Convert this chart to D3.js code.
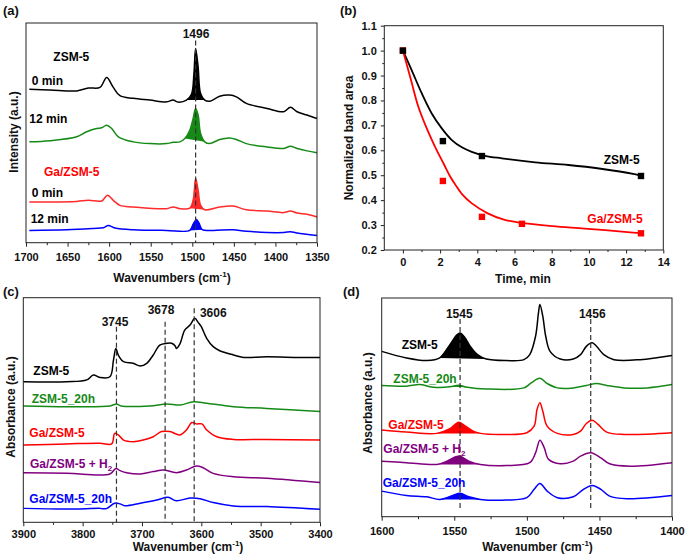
<!DOCTYPE html>
<html>
<head>
<meta charset="utf-8">
<script src="https://cdn.jsdelivr.net/npm/d3@7"></script>
<style>
  body { margin: 0; background: #fff; }
  svg text { font-family: "Liberation Sans", Arial, sans-serif; font-weight: bold; }
</style>
</head>
<body>
<svg id="fig" width="685" height="559"></svg>
<script>
// ---- panel (a): wavenumber (cm-1), intensity (a.u.) ----
var aZsm0 = [[1696,69.8],[1671,69.5],[1639,69.1],[1625,70.4],[1611,70.7],[1603,75.2],[1595,70.7],[1587,66.9],
  [1571,65.7],[1551,64.9],[1531,64.1],[1523,64.9],[1517,64.0],[1507,64.9],[1501,67.6],[1498,77.1],[1496,88.4],
  [1493,80.1],[1490,67.9],[1485,64.9],[1479,64.4],[1467,66.7],[1455,67.2],[1447,66.4],[1435,63.4],[1410,61.1],
  [1390,59.6],[1382,61.6],[1374,59.6],[1362,58.1],[1350,56.5]];
var aZsm12 = [[1696,45.9],[1671,46.4],[1639,48.2],[1627,50.5],[1615,52.0],[1609,52.3],[1603,53.5],[1597,52.0],
  [1589,48.2],[1571,45.9],[1551,45.1],[1531,45.1],[1523,45.7],[1515,45.9],[1509,47.4],[1503,51.2],[1499,56.5],
  [1496,61.1],[1493,58.1],[1490,49.7],[1485,45.9],[1479,45.1],[1467,47.0],[1455,47.7],[1447,47.0],[1435,45.1],
  [1410,43.6],[1390,42.9],[1382,43.9],[1374,42.9],[1362,41.8],[1350,40.9]];
var aGa0 = [[1696,18.5],[1671,18.5],[1639,18.8],[1625,19.3],[1609,19.0],[1602,21.6],[1595,19.3],[1587,17.0],
  [1571,16.3],[1531,15.5],[1523,16.3],[1515,15.5],[1503,15.7],[1499,19.3],[1496,29.2],[1493,23.9],[1490,17.0],
  [1485,15.0],[1467,16.3],[1451,16.7],[1435,15.0],[1410,14.4],[1390,13.7],[1382,14.4],[1374,13.5],[1362,12.9],
  [1350,11.7]];
var aGa12 = [[1696,5.6],[1651,5.9],[1619,6.5],[1607,6.8],[1601,7.8],[1593,6.7],[1571,5.9],[1531,5.6],[1503,5.6],
  [1499,8.4],[1495,10.6],[1492,9.0],[1488,5.9],[1475,5.6],[1451,5.9],[1435,5.2],[1390,4.6],[1382,5.0],[1374,4.4],
  [1350,3.3]];
var aColors = ["#000000", "#168a16", "#ff2a2a", "#0000ff"];
var aFillRanges = [[1507,1485], [1509,1485], [1503,1485], [1503,1488]];
var aPeak = 1496;

// ---- panel (b): time (min), normalized band area ----
var bTimeZsm = [0, 2.15, 4.25, 12.8];
var bAreaZsm = [1.0, 0.637, 0.577, 0.497];
var bTimeGa = [0, 2.15, 4.25, 6.4, 12.8];
var bAreaGa = [1.0, 0.477, 0.333, 0.305, 0.267];
var bFitZsm = [[0,1.0],[0.47,0.922],[1.01,0.829],[1.55,0.748],[2.09,0.688],[2.63,0.641],[3.17,0.612],
  [3.7,0.594],[4.42,0.578],[5.32,0.568],[7.11,0.552],[8.9,0.541],[10.64,0.526],[12.38,0.505],[12.8,0.497]];
var bFitGa = [[0,1.0],[0.4,0.892],[0.83,0.775],[1.3,0.685],[1.73,0.614],[2.2,0.545],[2.54,0.495],
  [2.82,0.462],[3.2,0.422],[3.69,0.388],[4.56,0.347],[5.43,0.322],[6.3,0.31],[8.03,0.296],[9.77,0.286],
  [12.38,0.27],[12.8,0.267]];
var bTicksX = [0, 2, 4, 6, 8, 10, 12, 14];
var bTicksY = [0.2, 0.3, 0.4, 0.5, 0.6, 0.7, 0.8, 0.9, 1.0, 1.1];

// ---- panel (c): OH region, wavenumber (cm-1), absorbance (a.u.) ----
var cZsm = [[3900,62.6],[3827,62.6],[3793,63.4],[3782,65.6],[3771,64.5],[3754,64.8],[3748,72.3],[3744,77.4],
  [3740,74.5],[3731,71.5],[3715,70.8],[3703,69.6],[3692,70.8],[3681,74.5],[3670,78.9],[3658,79.7],[3650,79.7],
  [3644,78.5],[3642,77.4],[3636,79.4],[3628,85.6],[3619,87.8],[3611,90.8],[3605,88.9],[3600,87.1],[3591,81.9],
  [3580,78.2],[3569,76.4],[3546,74.5],[3529,73.4],[3490,73.7],[3434,73.4],[3400,73.4]];
var cZsm20 = [[3900,51.8],[3827,51.5],[3754,51.8],[3743,52.7],[3735,51.8],[3687,51.8],[3658,52.7],[3636,52.2],
  [3613,53.7],[3591,53.0],[3546,51.5],[3490,50.7],[3400,49.3]];
var cGa = [[3900,34.4],[3827,34.9],[3771,35.2],[3751,34.9],[3746,39.6],[3740,38.9],[3731,36.6],[3715,35.9],
  [3698,36.6],[3681,38.1],[3667,40.4],[3653,40.4],[3636,38.9],[3625,41.1],[3616,44.4],[3608,43.8],[3599,43.8],
  [3591,41.1],[3574,38.1],[3546,36.9],[3490,36.9],[3400,36.6]];
var cGaH2 = [[3900,22.1],[3827,21.8],[3754,21.5],[3744,24.0],[3737,23.0],[3726,22.1],[3703,21.5],[3681,22.6],
  [3664,23.3],[3642,22.1],[3625,23.3],[3608,25.1],[3597,24.3],[3580,21.8],[3546,20.3],[3490,19.6],[3400,17.7]];
var cGa20 = [[3900,6.2],[3827,5.9],[3771,6.2],[3760,6.1],[3746,8.5],[3737,8.2],[3729,7.4],[3703,8.5],[3675,9.9],
  [3656,11.1],[3642,9.6],[3619,10.8],[3602,10.5],[3580,8.8],[3546,7.3],[3490,7.0],[3400,5.8]];
var cPeaks = [3743, 3661, 3612];
var cPeakTops = [87.1, 89.3, 95.3];
var cPeakLabels = ["3745", "3678", "3606"];

// ---- panel (d): pyridine region, wavenumber (cm-1), absorbance (a.u.) ----
var dZsm = [[1600,75.6],[1583,72.6],[1569,71.4],[1560,72.6],[1553,78.7],[1548,83.3],[1546,84.0],[1543,82.2],
  [1539,77.9],[1534,74.1],[1528,72.1],[1514,71.4],[1502,71.8],[1498,74.1],[1494,82.5],[1492,93.2],[1491,97.0],
  [1489,91.6],[1487,82.5],[1484,75.6],[1477,72.1],[1468,72.1],[1463,74.1],[1459,77.9],[1455,79.5],[1452,77.9],
  [1447,74.1],[1440,71.8],[1422,71.8],[1400,73.7]];
var dZsm20 = [[1600,60.0],[1583,59.7],[1574,60.4],[1564,59.2],[1553,59.4],[1547,60.1],[1541,59.2],[1528,58.4],
  [1502,58.9],[1497,61.2],[1491,63.3],[1486,60.9],[1479,58.9],[1468,58.9],[1459,60.0],[1452,60.9],[1445,60.0],
  [1433,58.9],[1417,58.9],[1400,60.4]];
var dGa = [[1600,39.6],[1583,38.7],[1562,38.1],[1553,40.2],[1547,43.2],[1543,41.7],[1537,39.1],[1532,38.1],
  [1514,37.6],[1500,38.4],[1495,41.4],[1493,49.0],[1491,52.1],[1489,48.2],[1486,41.4],[1479,38.1],[1468,37.6],
  [1463,39.1],[1459,42.6],[1455,44.1],[1451,42.2],[1445,38.7],[1433,37.6],[1400,38.4]];
var dGaH2 = [[1600,25.4],[1583,24.7],[1562,23.9],[1555,25.4],[1549,27.4],[1546,27.7],[1540,25.4],[1532,23.9],
  [1514,23.4],[1498,24.7],[1494,29.2],[1491,35.0],[1488,31.5],[1485,26.2],[1477,24.2],[1468,25.4],[1463,27.7],
  [1456,29.2],[1449,26.9],[1443,24.2],[1429,23.1],[1400,24.7]];
var dGa20 = [[1600,11.7],[1583,9.7],[1569,9.1],[1560,7.9],[1551,9.7],[1546,10.7],[1540,9.1],[1532,7.9],
  [1514,7.6],[1500,8.7],[1495,12.5],[1491,15.2],[1486,11.7],[1479,8.7],[1468,9.1],[1461,12.5],[1455,14.3],
  [1449,12.5],[1443,9.4],[1431,8.2],[1400,9.7]];
var dFillRanges = [[1560,1528], [1553,1541], [1562,1532], [1562,1532], [1560,1532]];
var dPeaks = [1546, 1456];
var dPeakLabels = ["1545", "1456"];

var sampleNames = ["ZSM-5", "ZSM-5_20h", "Ga/ZSM-5", "Ga/ZSM-5 + H", "Ga/ZSM-5_20h"];
var sampleColors = ["#000000", "#168a16", "#ff0000", "#800080", "#0000ff"];

var svg = d3.select("#fig");

// frame boxes of the four panels
var frames = {
  a: {x0: 26, x1: 317, y0: 23, y1: 242.7},
  b: {x0: 384.3, x1: 663.3, y0: 25.7, y1: 250},
  c: {x0: 23.3, x1: 320, y0: 297.7, y1: 522.3},
  d: {x0: 381.7, x1: 672, y0: 298, y1: 516.7}
};

function scales(f, xDom, yDom) {
  return {
    x: d3.scaleLinear().domain(xDom).range([f.x0, f.x1]),
    y: d3.scaleLinear().domain(yDom).range([f.y1, f.y0])
  };
}

function drawFrame(f) {
  svg.append("rect")
     .attr("x", f.x0).attr("y", f.y0)
     .attr("width", f.x1 - f.x0).attr("height", f.y1 - f.y0)
     .attr("fill", "none").attr("stroke", "#222").attr("stroke-width", 1);
}

function styleAxis(g) {
  g.select(".domain").remove();
  g.selectAll("line").attr("stroke", "#222");
  g.selectAll("text")
   .attr("font-family", "Liberation Sans, Arial, sans-serif")
   .attr("font-weight", "bold").attr("font-size", 11).attr("fill", "#111");
}

function bottomAxis(f, x, major, minor, pad, fmt) {
  var g = svg.append("g").attr("transform", "translate(0," + f.y1 + ")")
             .call(d3.axisBottom(x).tickValues(major).tickSize(4).tickPadding(pad)
                   .tickFormat(fmt || d3.format("d")));
  styleAxis(g);
  var m = svg.append("g").attr("transform", "translate(0," + f.y1 + ")")
             .call(d3.axisBottom(x).tickValues(minor).tickSize(2.5).tickFormat(""));
  styleAxis(m);
}

function axisTitle(x, y, main, sup, rotate) {
  var t = svg.append("text").attr("font-size", 12).attr("fill", "#111")
             .attr("text-anchor", "middle");
  if (rotate) t.attr("transform", "translate(" + x + "," + y + ") rotate(-90)");
  else t.attr("x", x).attr("y", y);
  t.append("tspan").text(main);
  if (sup) {
    t.append("tspan").attr("font-size", 8).attr("dy", -5).text(sup);
    t.append("tspan").attr("dy", 5).text(")");
  }
}

function label(x, y, txt, color, anchor, size) {
  return svg.append("text").attr("x", x).attr("y", y)
            .attr("font-size", size || 12).attr("fill", color)
            .attr("text-anchor", anchor || "start").text(txt);
}

function dashed(s, wn, top, bottom) {
  svg.append("line")
     .attr("x1", s.x(wn)).attr("x2", s.x(wn))
     .attr("y1", s.y(top)).attr("y2", s.y(bottom))
     .attr("stroke", "#333").attr("stroke-width", 1.2).attr("stroke-dasharray", "5,3");
}

function spectrum(s, pts, color, fillRange) {
  var line = d3.line().x(function(d) { return s.x(d[0]); })
                      .y(function(d) { return s.y(d[1]); })
                      .curve(d3.curveCatmullRom.alpha(0.5));
  if (fillRange) {
    var sub = pts.filter(function(d) { return d[0] <= fillRange[0] && d[0] >= fillRange[1]; });
    svg.append("path").attr("d", line(sub) + "Z").attr("fill", color).attr("stroke", "none");
  }
  svg.append("path").datum(pts).attr("d", line)
     .attr("fill", "none").attr("stroke", color).attr("stroke-width", 1.5);
}

// ===== panel (a) =====
var fa = frames.a, sa = scales(fa, [1700, 1350], [0, 100]);
[aZsm0, aZsm12, aGa0, aGa12].forEach(function(d, i) {
  spectrum(sa, d, aColors[i], aFillRanges[i]);
});
dashed(sa, aPeak, 92, 0);
drawFrame(fa);
bottomAxis(fa, sa.x, d3.range(1700, 1349, -50), d3.range(1675, 1350, -50), 7);
label(196, 37.5, String(aPeak), "#111", "middle");
label(53.3, 61, "ZSM-5", "#000");
label(31.7, 85, "0 min", "#000");
label(29.3, 123, "12 min", "#000");
label(44, 176, "Ga/ZSM-5", "#ff0000");
label(31.7, 197, "0 min", "#000");
label(30.7, 223, "12 min", "#000");
axisTitle(172, 282, "Wavenumbers (cm", "-1");
axisTitle(18, 132, "Intensity (a.u.)", null, true);
label(3, 15, "(a)", "#111", "start", 13);

// ===== panel (b) =====
var fb = frames.b, sb = scales(fb, [-1, 14], [0.2, 1.1]);
var fitLine = d3.line().x(function(d) { return sb.x(d[0]); })
                       .y(function(d) { return sb.y(d[1]); })
                       .curve(d3.curveCatmullRom.alpha(0.5));
svg.append("path").datum(bFitZsm).attr("d", fitLine)
   .attr("fill", "none").attr("stroke", "#000").attr("stroke-width", 1.8);
svg.append("path").datum(bFitGa).attr("d", fitLine)
   .attr("fill", "none").attr("stroke", "#ff0000").attr("stroke-width", 1.8);
function squares(ts, vs, color) {
  svg.append("g").selectAll("rect").data(ts).enter().append("rect")
     .attr("x", function(d) { return sb.x(d) - 3.2; })
     .attr("y", function(d, i) { return sb.y(vs[i]) - 3.2; })
     .attr("width", 6.4).attr("height", 6.4).attr("fill", color);
}
squares(bTimeGa, bAreaGa, "#ff0000");
squares(bTimeZsm, bAreaZsm, "#000");
drawFrame(fb);
var gbx = svg.append("g").attr("transform", "translate(0," + fb.y1 + ")")
             .call(d3.axisBottom(sb.x).tickValues(bTicksX).tickSize(3.5).tickPadding(4.5));
styleAxis(gbx);
var gbxm = svg.append("g").attr("transform", "translate(0," + fb.y1 + ")")
              .call(d3.axisBottom(sb.x).tickValues(d3.range(1, 14, 2)).tickSize(2).tickFormat(""));
styleAxis(gbxm);
var gby = svg.append("g").attr("transform", "translate(" + fb.x0 + ",0)")
             .call(d3.axisLeft(sb.y).tickValues(bTicksY).tickSize(3.5).tickPadding(4)
                   .tickFormat(d3.format(".1f")));
styleAxis(gby);
var gbym = svg.append("g").attr("transform", "translate(" + fb.x0 + ",0)")
              .call(d3.axisLeft(sb.y).tickValues(bTicksY.slice(0, -1).map(function(v) { return v + 0.05; }))
                    .tickSize(2).tickFormat(""));
styleAxis(gbym);
label(621.7, 163.5, "ZSM-5", "#000", "middle");
label(615, 223, "Ga/ZSM-5", "#ff0000", "middle");
axisTitle(523, 283, "Time, min");
axisTitle(353, 138, "Normalized band area", null, true);
label(340, 15, "(b)", "#111", "start", 13);

// ===== panel (c) =====
var fc = frames.c, sc = scales(fc, [3900, 3400], [0, 100]);
[cZsm, cZsm20, cGa, cGaH2, cGa20].forEach(function(d, i) {
  spectrum(sc, d, sampleColors[i]);
});
cPeaks.forEach(function(p, i) { dashed(sc, p, cPeakTops[i], 0); });
drawFrame(fc);
bottomAxis(fc, sc.x, d3.range(3900, 3399, -100), d3.range(3850, 3400, -100), 3.5);
label(115, 326, cPeakLabels[0], "#111", "middle");
label(161, 313.5, cPeakLabels[1], "#111", "middle");
label(213.3, 316.5, cPeakLabels[2], "#111", "middle");
var cLabelPos = [[33.3, 375], [31.7, 402.5], [29.3, 437], [30, 467.5], [29.3, 502.5]];
sampleNames.forEach(function(n, i) {
  var t = label(cLabelPos[i][0], cLabelPos[i][1], n, sampleColors[i]);
  if (i === 3) t.append("tspan").attr("font-size", 8).attr("dy", 3).text("2");
});
axisTitle(188, 551, "Wavenumber (cm", "-1");
axisTitle(15, 407, "Absorbance (a.u.)", null, true);
label(3, 296, "(c)", "#111", "start", 13);

// ===== panel (d) =====
var fd = frames.d, sd = scales(fd, [1600, 1400], [0, 100]);
[dZsm, dZsm20, dGa, dGaH2, dGa20].forEach(function(d, i) {
  spectrum(sd, d, sampleColors[i], dFillRanges[i]);
});
dPeaks.forEach(function(p) { dashed(sd, p, 90.4, 2.6); });
drawFrame(fd);
bottomAxis(fd, sd.x, d3.range(1600, 1399, -50), d3.range(1575, 1400, -50), 7);
label(459.3, 317.5, dPeakLabels[0], "#111", "middle");
label(592.3, 317.5, dPeakLabels[1], "#111", "middle");
var dLabelPos = [[401.7, 349], [393.3, 382.5], [388.3, 428.5], [383.3, 452.5], [382.7, 487]];
sampleNames.forEach(function(n, i) {
  var t = label(dLabelPos[i][0], dLabelPos[i][1], n, sampleColors[i]);
  if (i === 3) t.append("tspan").attr("font-size", 8).attr("dy", 3).text("2");
});
axisTitle(537.5, 551, "Wavenumber (cm", "-1");
axisTitle(372, 403, "Absorbance (a.u.)", null, true);
label(343, 296, "(d)", "#111", "start", 13);
</script>
</body>
</html>
